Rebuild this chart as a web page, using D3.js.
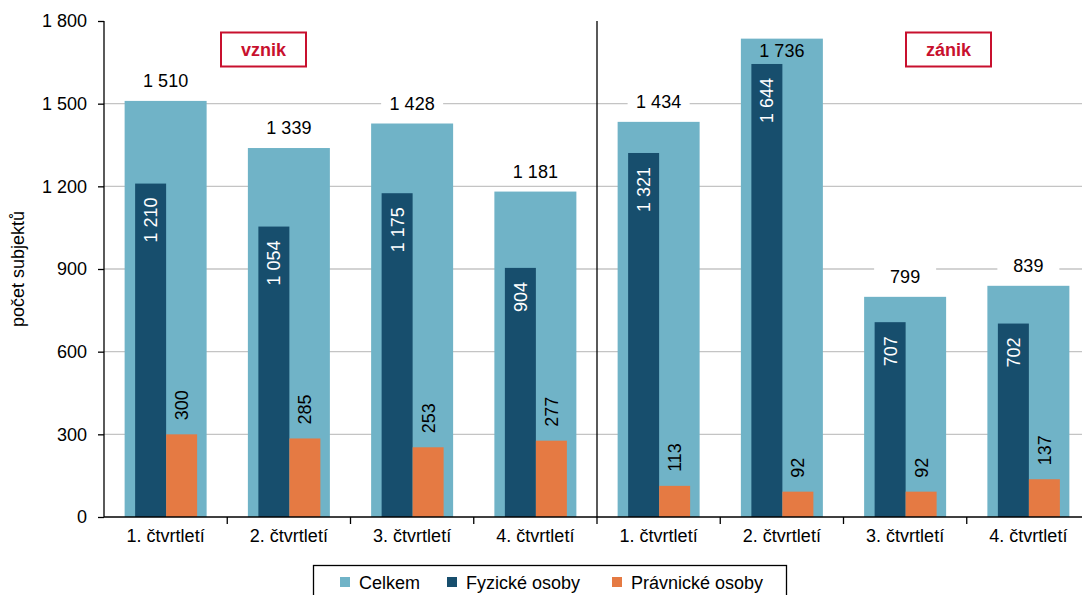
<!DOCTYPE html>
<html>
<head>
<meta charset="utf-8">
<script src="https://cdn.jsdelivr.net/npm/d3@7"></script>
<style>
  body { margin: 0; background: #fff; overflow: hidden; }
  svg { font-family: "Liberation Sans", Arial, sans-serif; display: block; }
</style>
</head>
<body>
<div class="chart"></div>
<script>
var quarters = ['1. čtvrtletí', '2. čtvrtletí', '3. čtvrtletí', '4. čtvrtletí',
  '1. čtvrtletí', '2. čtvrtletí', '3. čtvrtletí', '4. čtvrtletí'];
var celkem = [1510, 1339, 1428, 1181, 1434, 1736, 799, 839];
var fyzicke = [1210, 1054, 1175, 904, 1321, 1644, 707, 702];
var pravnicke = [300, 285, 253, 277, 113, 92, 92, 137];
var yTicks = [0, 300, 600, 900, 1200, 1500, 1800];
var seriesNames = ['Celkem', 'Fyzické osoby', 'Právnické osoby'];
var colors = ['#70b3c7', '#174e6d', '#e57a43'];

var width = 1082,
  height = 595,
  mLeft = 104,
  mRight = 1090,
  mTop = 21,
  mBottom = 517,
  fs = 18;

var loc = d3.formatLocale({ decimal: ',', thousands: '\u00a0', grouping: [3], currency: ['', ''] });
var fmt = loc.format(',d');

var svg = d3
  .select('.chart')
  .append('svg')
  .attr('width', width)
  .attr('height', height);

var idx = d3.range(quarters.length);

var x = d3.scaleBand().domain(idx).range([mLeft, mRight]);
var y = d3.scaleLinear().domain([0, 1800]).range([mBottom, mTop]);

// gridlines
svg
  .selectAll('.grid')
  .data(yTicks.filter(function (d) { return d > 0 && d < 1800; }))
  .enter()
  .append('line')
  .attr('x1', mLeft)
  .attr('x2', mRight)
  .attr('y1', function (d) { return y(d); })
  .attr('y2', function (d) { return y(d); })
  .attr('stroke', '#c4c4c4')
  .attr('stroke-width', 1.3);

var bw = x.bandwidth();

// celkem
svg
  .selectAll('.celkem')
  .data(celkem)
  .enter()
  .append('rect')
  .attr('fill', colors[0])
  .attr('x', function (d, i) { return x(i) + bw / 2 - 41; })
  .attr('width', 82)
  .attr('y', function (d) { return y(d); })
  .attr('height', function (d) { return mBottom - y(d); });

// fyzicke
svg
  .selectAll('.fyz')
  .data(fyzicke)
  .enter()
  .append('rect')
  .attr('fill', colors[1])
  .attr('x', function (d, i) { return x(i) + bw / 2 - 30.5; })
  .attr('width', 31)
  .attr('y', function (d) { return y(d); })
  .attr('height', function (d) { return mBottom - y(d); });

// pravnicke
svg
  .selectAll('.prav')
  .data(pravnicke)
  .enter()
  .append('rect')
  .attr('fill', colors[2])
  .attr('x', function (d, i) { return x(i) + bw / 2 + 0.5; })
  .attr('width', 31)
  .attr('y', function (d) { return y(d); })
  .attr('height', function (d) { return mBottom - y(d); });

// celkem labels with white background (inside the bar when no room above)
function inside(d) {
  return y(d) - 30 < mTop;
}
var cl = svg
  .selectAll('.cl')
  .data(celkem)
  .enter()
  .append('g')
  .attr('transform', function (d, i) {
    var ty = inside(d) ? y(d) + 18 : y(d) - 14;
    return 'translate(' + (x(i) + bw / 2) + ',' + ty + ')';
  });
cl.filter(function (d) { return !inside(d); })
  .append('rect')
  .attr('x', -31)
  .attr('y', -15)
  .attr('width', 62)
  .attr('height', 20)
  .attr('fill', '#fff');
cl.append('text')
  .attr('text-anchor', 'middle')
  .attr('font-size', fs)
  .attr('fill', '#000')
  .text(function (d) { return fmt(d); });

// fyzicke labels inside, rotated
svg
  .selectAll('.fl')
  .data(fyzicke)
  .enter()
  .append('text')
  .attr('transform', function (d, i) {
    return 'translate(' + (x(i) + bw / 2 - 8.5) + ',' + (y(d) + 14) + ') rotate(-90)';
  })
  .attr('text-anchor', 'end')
  .attr('font-size', fs)
  .attr('fill', '#fff')
  .text(function (d) { return fmt(d); });

// pravnicke labels above, rotated
svg
  .selectAll('.pl')
  .data(pravnicke)
  .enter()
  .append('text')
  .attr('transform', function (d, i) {
    return 'translate(' + (x(i) + bw / 2 + 22.5) + ',' + (y(d) - 14) + ') rotate(-90)';
  })
  .attr('text-anchor', 'start')
  .attr('font-size', fs)
  .attr('fill', '#000')
  .text(function (d) { return fmt(d); });

// y axis
var yAxis = svg
  .append('g')
  .attr('transform', 'translate(' + mLeft + ',0)')
  .call(
    d3.axisLeft(y)
      .tickValues(yTicks)
      .tickSize(6)
      .tickPadding(11)
      .tickFormat(fmt)
  );
yAxis.select('.domain').attr('stroke', '#000').attr('stroke-width', 1.3).attr('d', 'M0,' + mTop + 'V' + mBottom);
yAxis.selectAll('.tick line').attr('stroke', '#000').attr('stroke-width', 1.3);
yAxis.selectAll('text').attr('font-size', fs).attr('fill', '#000').attr('font-family', '"Liberation Sans", Arial, sans-serif');

// x axis
var xAxis = svg
  .append('g')
  .attr('transform', 'translate(0,' + mBottom + ')')
  .call(d3.axisBottom(x).tickSize(0).tickPadding(12).tickFormat(function (i) { return quarters[i]; }));
xAxis.select('.domain').attr('stroke', '#000').attr('stroke-width', 1.3).attr('d', 'M' + mLeft + ',0H' + mRight);
xAxis.selectAll('text').attr('font-size', fs).attr('fill', '#000').attr('font-family', '"Liberation Sans", Arial, sans-serif');

// category boundary ticks
svg
  .selectAll('.bt')
  .data(d3.range(1, quarters.length))
  .enter()
  .append('line')
  .attr('x1', function (i) { return x(i); })
  .attr('x2', function (i) { return x(i); })
  .attr('y1', mBottom)
  .attr('y2', mBottom + 7)
  .attr('stroke', '#000')
  .attr('stroke-width', 1.3);

// divider between vznik and zanik
svg
  .append('line')
  .attr('x1', x(4))
  .attr('x2', x(4))
  .attr('y1', mTop)
  .attr('y2', mBottom)
  .attr('stroke', '#000')
  .attr('stroke-width', 1.3);

// y axis title
svg
  .append('text')
  .attr('transform', 'translate(24,' + (mTop + mBottom) / 2 + ') rotate(-90)')
  .attr('text-anchor', 'middle')
  .attr('font-size', fs)
  .text('počet subjektů');

// section boxes
var sections = [
  { name: 'vznik', cx: 263.5 },
  { name: 'zánik', cx: 948.5 }
];
var sb = svg
  .selectAll('.sb')
  .data(sections)
  .enter()
  .append('g')
  .attr('transform', function (d) { return 'translate(' + d.cx + ',49.5)'; });
sb.append('rect')
  .attr('x', -42.5)
  .attr('y', -17)
  .attr('width', 85)
  .attr('height', 34)
  .attr('fill', '#fff')
  .attr('stroke', '#c8102e')
  .attr('stroke-width', 2);
sb.append('text')
  .attr('text-anchor', 'middle')
  .attr('y', 6.5)
  .attr('font-size', fs)
  .attr('font-weight', 'bold')
  .attr('fill', '#c8102e')
  .text(function (d) { return d.name; });

// legend
var lg = svg.append('g');
lg.append('rect')
  .attr('x', 313.5)
  .attr('y', 565.5)
  .attr('width', 473)
  .attr('height', 40)
  .attr('fill', '#fff')
  .attr('stroke', '#000')
  .attr('stroke-width', 1.3);
var legendX = [340, 447, 612];
var li = lg
  .selectAll('.li')
  .data(seriesNames)
  .enter()
  .append('g')
  .attr('transform', function (d, i) { return 'translate(' + legendX[i] + ',0)'; });
li.append('rect')
  .attr('x', 0)
  .attr('y', 577)
  .attr('width', 10)
  .attr('height', 10)
  .attr('fill', function (d, i) { return colors[i]; });
li.append('text')
  .attr('x', 19)
  .attr('y', 589)
  .attr('font-size', fs)
  .text(function (d) { return d; });
</script>
</body>
</html>
